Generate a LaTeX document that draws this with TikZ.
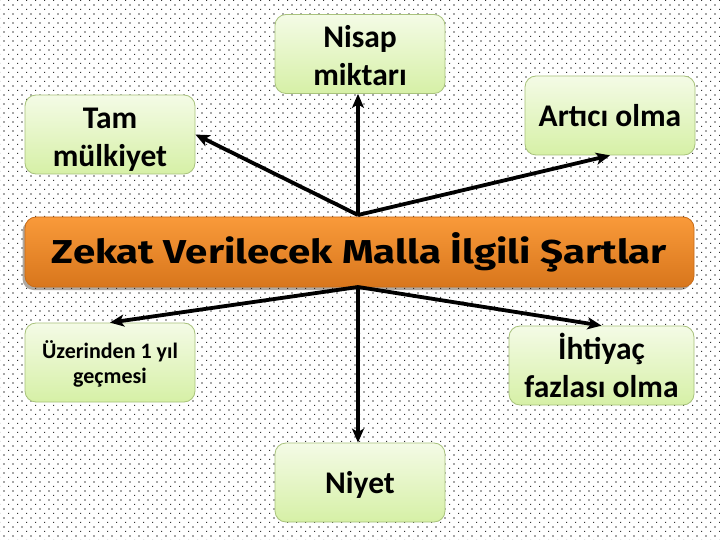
\documentclass[tikz,border=0pt]{standalone}
\usepackage{fontspec}
\setmainfont{Carlito}
\newfontfamily\titlefont{Fira Sans}
\usetikzlibrary{arrows.meta,patterns,shadows}
\pgfdeclarepatternformonly{zdots}{\pgfqpoint{0pt}{0pt}}{\pgfqpoint{9.4pt}{9.4pt}}{\pgfqpoint{9.4pt}{9.4pt}}{%
  \pgfpathrectangle{\pgfqpoint{0pt}{0pt}}{\pgfqpoint{1.3pt}{1.3pt}}%
  \pgfpathrectangle{\pgfqpoint{4.7pt}{4.7pt}}{\pgfqpoint{1.3pt}{1.3pt}}%
  \pgfusepath{fill}}
\newcommand\pushdown[1]{\rule{0pt}{#1}}
\definecolor{boxtop}{HTML}{F4FBE6}
\definecolor{boxbot}{HTML}{D6F0A6}
\definecolor{boxline}{HTML}{A8C27C}
\definecolor{bartop}{HTML}{F99A3A}
\definecolor{barbot}{HTML}{D8761C}
\definecolor{barline}{HTML}{C96C18}
\definecolor{dotc}{HTML}{333333}
\tikzset{
  greenbox/.style={draw=boxline, line width=0.8pt, rounded corners=11pt,
    top color=boxtop, bottom color=boxbot, minimum width=170pt, minimum height=79pt,
    inner sep=0pt, align=center, text=black, font=\bfseries\fontsize{31.5}{38}\selectfont},
  titlebar/.style={draw=barline, line width=0.8pt, rounded corners=11pt,
    top color=bartop, bottom color=barbot, minimum width=669pt, minimum height=70pt,
    inner sep=0pt, align=center, text=black,
    drop shadow={shadow xshift=-2.5pt, shadow yshift=-3pt, opacity=0.4, fill=black!70!brown}},
  conn/.style={line width=3.8pt, draw=black, -{Stealth[length=14pt,width=12pt,inset=3.5pt]}}
}
\begin{document}
\begin{tikzpicture}[x=1pt,y=-1pt]
\useasboundingbox (0,0) rectangle (720,540);
\fill[white] (0,0) rectangle (720,540);
\fill[pattern=zdots, pattern color=dotc] (0,0) rectangle (720,540);

\node[titlebar] (bar) at (359.5,252) {\resizebox{615pt}{31pt}{\titlefont\bfseries Zekat Verilecek Malla İlgili Şartlar}};

\node[greenbox] (tam) at (110,134.5) {\pushdown{31pt}Tam\\mülkiyet};
\node[greenbox] (nisap) at (360,54) {\pushdown{25pt}Nisap\\miktarı};
\node[greenbox] (artici) at (610,115.5) {Artıcı olma};
\node[greenbox, font=\bfseries\fontsize{22}{25}\selectfont] (uzer) at (110,362.5) {\pushdown{20pt}Üzerinden 1 yıl\\geçmesi};
\node[greenbox, minimum width=185pt] (ihti) at (601.5,365.5) {İhtiyaç\\fazlası olma};
\node[greenbox] (niyet) at (360,482.5) {\pushdown{26pt}Niyet};

\coordinate (ctop) at (358,215);
\coordinate (cbot) at (358,287);

\draw[conn] (ctop) -- (tam.east);
\draw[conn] (ctop) -- (nisap.south -| ctop);
\draw[conn] (ctop) -- (artici.south);
\draw[conn] (cbot) -- (uzer.north);
\draw[conn] (cbot) -- (ihti.north);
\draw[conn] (cbot) -- (niyet.north -| cbot);
\end{tikzpicture}
\end{document}
